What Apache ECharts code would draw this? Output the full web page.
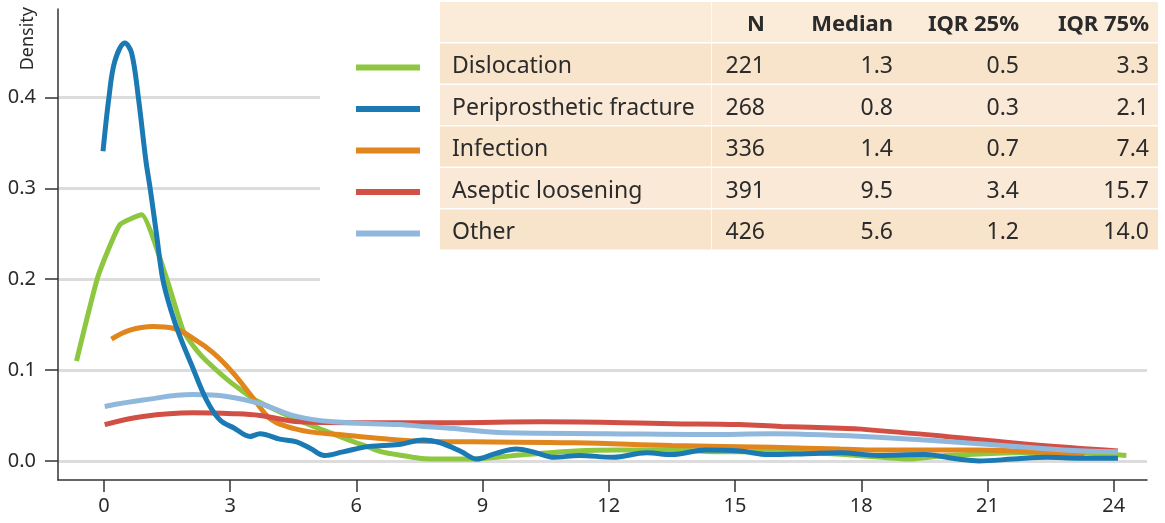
<!DOCTYPE html>
<html>
<head>
<meta charset="utf-8">
<script src="https://cdn.jsdelivr.net/npm/echarts@6/dist/echarts.min.js"></script>
<style>
  html, body { margin: 0; padding: 0; background: #fff; }
  #chart { width: 1165px; height: 523px; }
</style>
</head>
<body>
<div id="chart"></div>
<script>
// density curves, [years, density]
var dislocation = [[-0.65,0.110],[-0.14,0.203],[0.38,0.260],[0.90,0.271],[1.49,0.201],[1.88,0.144],[2.2,0.122],[2.44,0.110],[3.0,0.087],[3.6,0.067],[4.0,0.058],[4.6,0.045],[5.1,0.036],[5.6,0.027],[6.0,0.020],[6.6,0.010],[7.5,0.003],[8.2,0.002],[8.8,0.002],[10.0,0.007],[11.2,0.011],[12.3,0.012],[13.5,0.012],[14.7,0.010],[16.0,0.010],[17.6,0.007],[18.5,0.004],[19.1,0.002],[20.0,0.006],[21.6,0.009],[23.2,0.009],[24.3,0.006]];
var fracture = [[-0.02,0.341],[0.12,0.400],[0.26,0.440],[0.5,0.460],[0.66,0.449],[0.82,0.400],[1.0,0.330],[1.1,0.300],[1.25,0.250],[1.4,0.200],[1.6,0.165],[1.8,0.138],[2.1,0.104],[2.44,0.067],[2.76,0.045],[3.1,0.036],[3.47,0.027],[3.71,0.030],[4.18,0.024],[4.58,0.021],[4.9,0.014],[5.25,0.006],[5.68,0.010],[6.3,0.016],[7.0,0.018],[7.6,0.023],[8.0,0.020],[8.5,0.010],[8.86,0.002],[9.3,0.008],[9.8,0.013],[10.2,0.010],[10.7,0.004],[11.3,0.006],[12.1,0.004],[12.9,0.009],[13.5,0.007],[14.3,0.012],[15.1,0.011],[15.8,0.007],[16.7,0.008],[17.5,0.009],[18.4,0.006],[19.5,0.007],[20.3,0.002],[20.8,0.000],[21.6,0.002],[22.4,0.004],[23.2,0.003],[24.1,0.003]];
var infection = [[0.18,0.134],[0.62,0.144],[1.17,0.148],[1.65,0.146],[2.12,0.135],[2.6,0.119],[3.07,0.097],[3.55,0.069],[3.94,0.047],[4.34,0.038],[4.9,0.032],[5.6,0.029],[6.5,0.025],[7.4,0.022],[8.8,0.021],[11.2,0.020],[13.5,0.017],[15.9,0.015],[17.5,0.013],[18.4,0.012],[20.8,0.012],[22.4,0.009],[23.3,0.005]];
var loosening = [[0.02,0.040],[0.93,0.049],[2.12,0.053],[3.07,0.052],[3.71,0.050],[4.66,0.043],[5.85,0.042],[8.2,0.042],[10.4,0.043],[13.5,0.041],[15.1,0.040],[16.1,0.038],[17.5,0.036],[18.0,0.035],[20.0,0.027],[22.0,0.018],[24.1,0.011]];
var other = [[0.02,0.060],[0.93,0.067],[2.12,0.073],[2.92,0.071],[3.71,0.063],[4.58,0.049],[5.45,0.043],[7.03,0.040],[7.59,0.038],[8.22,0.036],[9.57,0.031],[11.95,0.030],[14.3,0.029],[15.9,0.030],[17.5,0.028],[18.4,0.026],[20.8,0.019],[22.8,0.012],[24.1,0.010]];

var xTicks = [0, 3, 6, 9, 12, 15, 18, 21, 24];
var yTicks = [0, 0.1, 0.2, 0.3, 0.4];

// table
var headers = ['N', 'Median', 'IQR 25%', 'IQR 75%'];
var names = ['Dislocation', 'Periprosthetic fracture', 'Infection', 'Aseptic loosening', 'Other'];
var nVals = [221, 268, 336, 391, 426];
var medians = ['1.3', '0.8', '1.4', '9.5', '5.6'];
var iqr25 = ['0.5', '0.3', '0.7', '3.4', '1.2'];
var iqr75 = ['3.3', '2.1', '7.4', '15.7', '14.0'];
var colors = ['#8dc63f', '#1b7ab4', '#e0861d', '#d24f45', '#90b8dc'];

var font = '"Noto Sans", sans-serif';
var txt = '#2b2b2b';

var chart = echarts.init(document.getElementById('chart'));

// table + legend built as graphics
var g = [];
g.push({ type: 'rect', z: 1, shape: { x: 320, y: 0, width: 845, height: 320 }, style: { fill: '#fff' } });
var rowTop = 2, rowPitch = 41.5, rowH = 40;
var colRight = [765, 893, 1019, 1149];
g.push({ type: 'rect', z: 3, shape: { x: 440, y: rowTop, width: 718, height: rowH }, style: { fill: '#fbebd9' } });
headers.forEach(function (h, i) {
    g.push({ type: 'text', z: 4, x: colRight[i], y: rowTop + rowH / 2 + 3,
        style: { text: h, fill: txt, font: 'bold 22px ' + font, align: 'right', verticalAlign: 'middle' } });
});
names.forEach(function (name, r) {
    var y = rowTop + rowPitch * (r + 1);
    g.push({ type: 'rect', z: 3, shape: { x: 440, y: y, width: 718, height: rowH },
        style: { fill: r % 2 === 0 ? '#f8e3cb' : '#fae9d7' } });
    g.push({ type: 'rect', z: 3, shape: { x: 356, y: y + rowH / 2 + 1, width: 64, height: 6 },
        style: { fill: colors[r] } });
    g.push({ type: 'text', z: 4, x: 452, y: y + rowH / 2 + 3,
        style: { text: name, fill: txt, font: '23px ' + font, align: 'left', verticalAlign: 'middle' } });
    [nVals[r], medians[r], iqr25[r], iqr75[r]].forEach(function (v, i) {
        g.push({ type: 'text', z: 4, x: colRight[i], y: y + rowH / 2 + 3,
            style: { text: String(v), fill: txt, font: '23px ' + font, align: 'right', verticalAlign: 'middle' } });
    });
});
g.push({ type: 'rect', z: 4, shape: { x: 711, y: rowTop, width: 1, height: rowPitch * 5 + rowH }, style: { fill: '#fff', opacity: 0.7 } });
g.push({ type: 'text', z: 4, x: 28, y: 7, rotation: Math.PI / 2,
    style: { text: 'Density', fill: txt, font: '18px ' + font, align: 'right', verticalAlign: 'middle' } });

function line(name, data, color, smooth) {
    return {
        name: name, type: 'line', data: data, showSymbol: false, symbol: 'none',
        smooth: smooth, z: 5,
        lineStyle: { color: color, width: 5, cap: 'butt' }
    };
}

var option = {
    animation: false,
    grid: { left: 58, right: 18, top: 9, bottom: 43, containLabel: false },
    xAxis: {
        type: 'value', min: -1.09, max: 24.79,
        axisLine: { onZero: false, lineStyle: { color: '#333', width: 1.5 } },
        axisTick: { customValues: xTicks, length: 12, lineStyle: { color: '#333', width: 1.5 } },
        axisLabel: { customValues: xTicks, color: txt, fontSize: 20, fontFamily: font, margin: 16 },
        splitLine: { show: false }
    },
    yAxis: {
        type: 'value', min: -0.021, max: 0.4975,
        axisLine: { show: true, onZero: false, lineStyle: { color: '#333', width: 1.5 } },
        axisTick: { show: true, inside: false, customValues: yTicks, length: 13, lineStyle: { color: '#333', width: 1.5 } },
        axisLabel: { customValues: yTicks, color: txt, fontSize: 20, fontFamily: font, margin: 22,
            formatter: function (v) { return v.toFixed(1); } },
        splitLine: { show: true, lineStyle: { color: '#dcdcdc', width: 3 } }
    },
    graphic: { elements: g },
    series: [
        line('Dislocation', dislocation, colors[0], 0.15),
        line('Infection', infection, colors[2], 0.4),
        line('Aseptic loosening', loosening, colors[3], 0.4),
        line('Other', other, colors[4], 0.4),
        line('Periprosthetic fracture', fracture, colors[1], 0.35)
    ]
};

chart.setOption(option);
</script>
</body>
</html>
